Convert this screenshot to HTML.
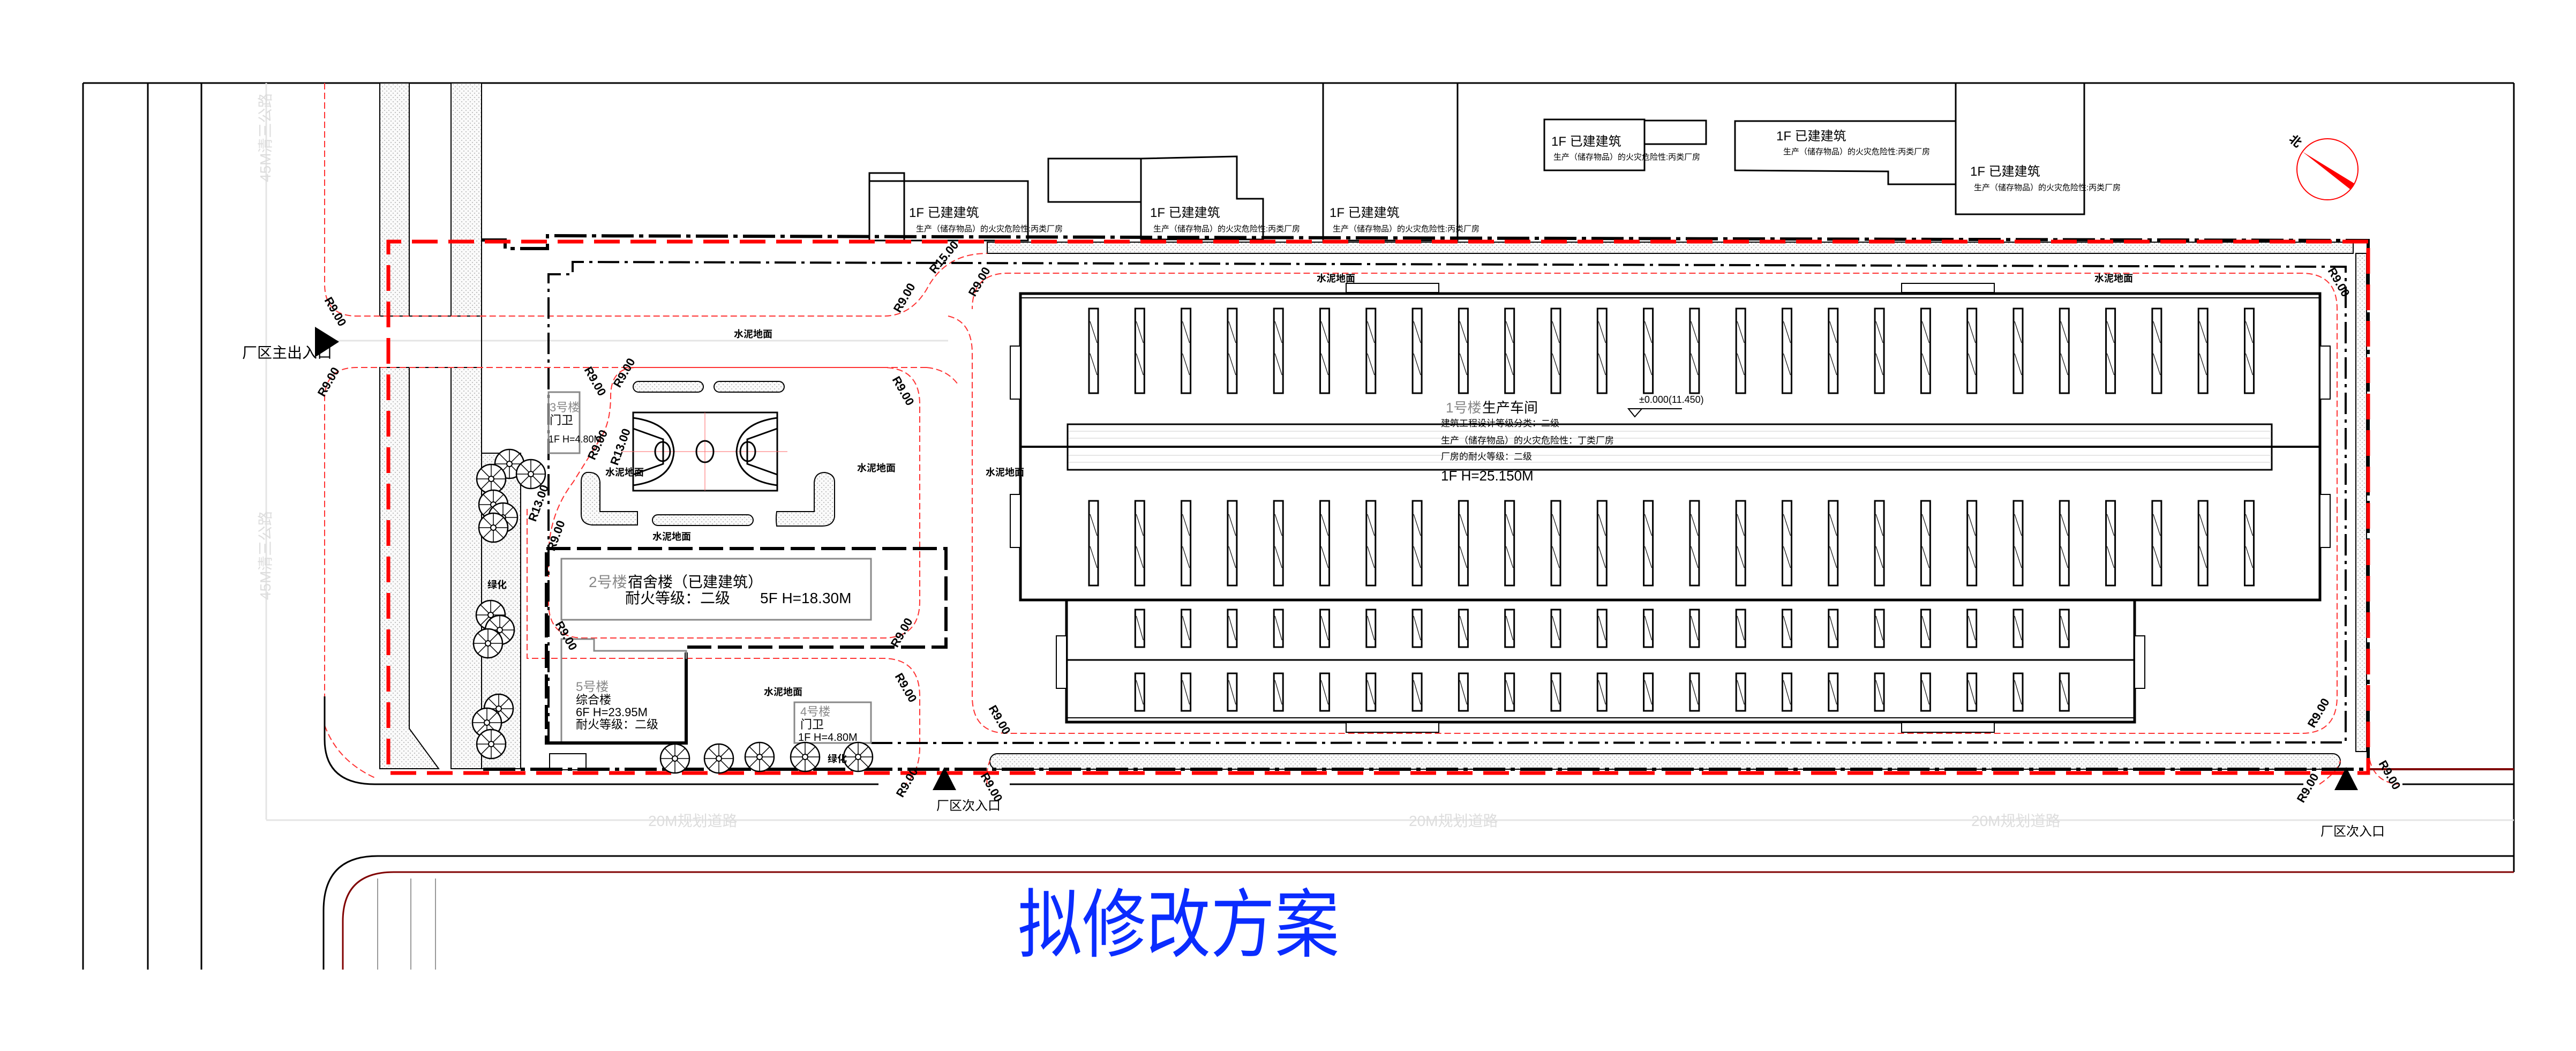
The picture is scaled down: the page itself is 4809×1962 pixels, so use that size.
<!DOCTYPE html>
<html><head><meta charset="utf-8"><style>
html,body{margin:0;padding:0;background:#fff;}
svg{display:block;}
text{font-family:"Liberation Sans","Noto Sans CJK SC",sans-serif;}
</style></head><body>
<svg width="4809" height="1962" viewBox="0 0 4809 1962" xmlns="http://www.w3.org/2000/svg">
<defs>
<pattern id="dots" width="8" height="8" patternUnits="userSpaceOnUse"><rect width="8" height="8" fill="#fafafa"/><circle cx="2" cy="2" r="0.9" fill="#999"/><circle cx="6" cy="6" r="0.9" fill="#999"/></pattern>
<pattern id="slats" x="2030" y="0" width="86.3" height="1962" patternUnits="userSpaceOnUse">
<g fill="#fff" stroke="#000" stroke-width="3">
<rect x="3" y="576" width="17" height="158"/><rect x="3" y="935" width="17" height="158"/>
<rect x="3" y="1138" width="17" height="70"/><rect x="3" y="1257" width="17" height="70"/></g>
<g stroke="#000" stroke-width="1.2">
<line x1="5" y1="600" x2="18" y2="640"/><line x1="5" y1="660" x2="18" y2="700"/>
<line x1="5" y1="960" x2="18" y2="1000"/><line x1="5" y1="1020" x2="18" y2="1060"/>
<line x1="5" y1="1150" x2="18" y2="1195"/><line x1="5" y1="1270" x2="18" y2="1315"/></g>
</pattern>
<symbol id="tree" viewBox="-30 -30 60 60">
<circle r="27" fill="#fff" stroke="#000" stroke-width="2.5"/>
<g stroke="#000" stroke-width="1.5"><line x1="-27" y1="0" x2="27" y2="0"/><line x1="0" y1="-27" x2="0" y2="27"/><line x1="-19" y1="-19" x2="19" y2="19"/><line x1="-19" y1="19" x2="19" y2="-19"/></g>
<circle r="5" fill="#fff" stroke="#000" stroke-width="2"/>
</symbol>
</defs>

<!-- frame -->
<g stroke="#000" stroke-width="3" fill="none">
<line x1="155" y1="155" x2="4693" y2="155"/>
<line x1="155" y1="155" x2="155" y2="1810"/>
<line x1="4693" y1="155" x2="4693" y2="1628"/>
<line x1="276" y1="155" x2="276" y2="1810"/>
<line x1="376" y1="155" x2="376" y2="1810"/>
</g>
<!-- faint road centre lines -->
<g stroke="#e4e4e4" stroke-width="3" fill="none">
<line x1="497" y1="155" x2="497" y2="1530"/>
<line x1="497" y1="1531" x2="4693" y2="1531"/>
<line x1="606" y1="636" x2="1770" y2="636"/>
</g>
<text transform="translate(505,340) rotate(-90)" font-size="28" fill="#ddd">45M清三公路</text>
<text transform="translate(505,1120) rotate(-90)" font-size="28" fill="#ddd">45M清三公路</text>
<text x="1210" y="1542" font-size="28" fill="#ddd">20M规划道路</text>
<text x="2630" y="1542" font-size="28" fill="#ddd">20M规划道路</text>
<text x="3680" y="1542" font-size="28" fill="#ddd">20M规划道路</text>

<!-- sidewalks -->
<g fill="url(#dots)" stroke="#000" stroke-width="2">
<rect x="709" y="155" width="55" height="435"/>
<rect x="842" y="155" width="57" height="435"/>
<path d="M709 686 L764 686 L764 1360 L819 1435 L709 1435 Z"/>
<rect x="842" y="686" width="57" height="749"/>
<rect x="899" y="846" width="73" height="589"/>
<rect x="1843" y="452" width="2550" height="21"/>
<rect x="4398" y="473" width="20" height="930"/>
<rect x="1848" y="1407" width="2521" height="29" rx="14"/>
</g>
<g stroke="#000" stroke-width="2" fill="none">
<line x1="709" y1="590" x2="899" y2="590"/>
<line x1="709" y1="686" x2="899" y2="686"/>
<line x1="899" y1="155" x2="899" y2="1435"/>
</g>

<!-- thin red dashed road edges -->
<g stroke="#f33" stroke-width="2" fill="none" stroke-dasharray="12,6">
<path d="M606 155 L606 530 Q606 590 666 590 L1650 590 Q1700 590 1730 540 Q1765 473 1843 473"/>
<path d="M1730 686 L666 686 Q606 686 606 746 L606 1380"/>
<path d="M1188 686 L1648 686 Q1717 686 1717 755 L1717 1122 Q1717 1191 1648 1191 L1090 1191 Q1024 1191 1024 1125 L1024 1040 Q1024 960 1070 900 L1120 820 Q1140 790 1140 740 Q1140 686 1188 686"/>
<path d="M984 950 L984 1229 L1648 1229 Q1717 1229 1717 1300 L1717 1395 Q1717 1440 1690 1464"/>
<path d="M1770 590 Q1815 600 1815 660 L1815 1300 Q1815 1369 1882 1369 L4296 1369 Q4363 1369 4363 1300 L4363 577 Q4363 510 4296 510 L1882 510 Q1815 510 1815 577"/>
<path d="M1843 1464 Q1840 1440 1848 1420"/>
<path d="M4330 1464 Q4365 1440 4369 1420"/>
<path d="M4421 1400 Q4425 1460 4478 1464"/>
<path d="M1730 686 Q1770 690 1790 720"/>
<path d="M606 1354 Q630 1420 700 1452"/>
</g>

<!-- bottom road -->
<g stroke="#000" stroke-width="3" fill="none">
<path d="M606 1300 L606 1380 Q606 1464 700 1464 L1640 1464"/>
<path d="M1885 1464 L4300 1464"/>
<path d="M4485 1464 L4693 1464"/>
<path d="M4693 1598 L705 1598 Q604 1598 604 1700 L604 1810"/>
</g>
<path d="M4693 1628 L735 1628 Q640 1628 640 1720 L640 1810" stroke="#800000" stroke-width="3" fill="none"/>
<g stroke="#999" stroke-width="2"><line x1="705" y1="1640" x2="705" y2="1810"/><line x1="767" y1="1640" x2="767" y2="1810"/><line x1="813" y1="1640" x2="813" y2="1810"/></g>
<line x1="4421" y1="1436" x2="4693" y2="1436" stroke="#800000" stroke-width="4"/>

<!-- existing buildings top -->
<g stroke="#000" stroke-width="3" fill="#fff">
<rect x="1623" y="323" width="65" height="126"/>
<line x1="1623" y1="338" x2="1688" y2="338"/>
<rect x="1688" y="338" width="231" height="111"/>
<rect x="1957" y="296" width="173" height="81"/>
<path d="M2130 296 L2309 292 L2309 371 L2358 371 L2358 447 L2130 447 Z"/>
<rect x="2470" y="155" width="251" height="294"/>
<rect x="2883" y="223" width="187" height="95"/>
<rect x="3070" y="225" width="115" height="44"/>
<path d="M3239 226 L3651 226 L3651 344 L3525 344 L3525 320 L3239 318 Z"/>
<rect x="3651" y="155" width="240" height="245"/>
</g>
<g font-size="24" fill="#000">
<text x="1697" y="405">1F 已建建筑</text><text x="2147" y="405">1F 已建建筑</text><text x="2482" y="405">1F 已建建筑</text>
<text x="2896" y="272">1F 已建建筑</text><text x="3316" y="262">1F 已建建筑</text><text x="3678" y="328">1F 已建建筑</text>
</g>
<g font-size="15" fill="#000">
<text x="1710" y="432">生产（储存物品）的火灾危险性:丙类厂房</text>
<text x="2153" y="432">生产（储存物品）的火灾危险性:丙类厂房</text>
<text x="2488" y="432">生产（储存物品）的火灾危险性:丙类厂房</text>
<text x="2900" y="298">生产（储存物品）的火灾危险性:丙类厂房</text>
<text x="3329" y="288">生产（储存物品）的火灾危险性:丙类厂房</text>
<text x="3685" y="355">生产（储存物品）的火灾危险性:丙类厂房</text>
</g>

<!-- boundary black -->
<path d="M899 448 L943 448 L943 464 L1022 464 L1022 440 L4421 449 L4421 1436 L899 1436" stroke="#000" stroke-width="6" fill="none" stroke-dasharray="60,10,8,10"/>
<!-- red thick dashed boundary -->
<path d="M4421 451 L725 451 L725 1443 L4421 1443 Z" stroke="#f00" stroke-width="7" fill="none" stroke-dasharray="48,20"/>

<!-- dash-dot inner boundary -->
<path d="M1024 1387 L1024 512 L1069 512 L1069 489 L4379 498 L4379 1386 L1626 1387" stroke="#000" stroke-width="4" fill="none" stroke-dasharray="40,10,6,10"/>

<!-- dorm 2 -->
<path d="M1020 1024 L1766 1024 L1766 1208 L1281 1208 L1281 1387 L1020 1387 Z" stroke="#000" stroke-width="6" fill="none" stroke-dasharray="45,12"/>
<rect x="1048" y="1043" width="578" height="114" fill="none" stroke="#888" stroke-width="3"/>
<text x="1099" y="1096" font-size="28" fill="#888">2号楼</text><text x="1172" y="1096" font-size="28">宿舍楼（已建建筑）</text>
<text x="1167" y="1126" font-size="28">耐火等级：二级　　5F H=18.30M</text>
<!-- 5 -->
<path d="M1048 1387 L1048 1240 L1048 1193 L1109 1193 L1109 1215 L1281 1215 L1281 1387" stroke="#888" stroke-width="3" fill="none"/>
<path d="M1020 1387 L1281 1387 L1281 1230" stroke="#000" stroke-width="6" fill="none"/>
<text x="1075" y="1290" font-size="24" fill="#888">5号楼</text>
<text x="1075" y="1314" font-size="22">综合楼</text>
<text x="1075" y="1337" font-size="22">6F H=23.95M</text>
<text x="1075" y="1360" font-size="22">耐火等级：二级</text>
<!-- 4 -->
<rect x="1483" y="1311" width="143" height="76" fill="none" stroke="#888" stroke-width="3"/>
<text x="1494" y="1336" font-size="22" fill="#888">4号楼</text>
<text x="1494" y="1360" font-size="22">门卫</text>
<text x="1490" y="1383" font-size="20">1F H=4.80M</text>
<rect x="1026" y="1407" width="68" height="30" fill="none" stroke="#000" stroke-width="2"/>
<!-- 3 -->
<rect x="1024" y="732" width="58" height="114" fill="none" stroke="#888" stroke-width="3"/>
<text x="1026" y="768" font-size="22" fill="#888">3号楼</text>
<text x="1026" y="792" font-size="22">门卫</text>
<text x="1024" y="826" font-size="18">1F H=4.80M</text>

<!-- basketball court -->
<g stroke="#000" stroke-width="3" fill="none">
<rect x="1182" y="770" width="269" height="146"/>
<line x1="1316" y1="770" x2="1316" y2="916" stroke="#f66" stroke-width="1"/>
<line x1="1160" y1="843" x2="1470" y2="843" stroke="#f66" stroke-width="1"/>
<ellipse cx="1316" cy="843" rx="16" ry="20"/>
<path d="M1182 780 Q1255 790 1258 843 Q1255 896 1182 906"/>
<path d="M1451 780 Q1378 790 1375 843 Q1378 896 1451 906"/>
<path d="M1182 800 L1238 820 L1238 866 L1182 886"/>
<path d="M1451 800 L1395 820 L1395 866 L1451 886"/>
<ellipse cx="1237" cy="843" rx="14" ry="18"/><ellipse cx="1396" cy="843" rx="14" ry="18"/>
</g>
<g fill="url(#dots)" stroke="#000" stroke-width="2">
<rect x="1182" y="712" width="131" height="20" rx="10"/>
<rect x="1333" y="712" width="131" height="20" rx="10"/>
<path d="M1095 882 Q1118 880 1120 900 L1120 955 L1190 955 L1190 980 L1105 980 Q1085 978 1085 960 L1085 900 Q1085 885 1095 882 Z"/>
<rect x="1218" y="961" width="188" height="20" rx="10"/>
<path d="M1450 955 L1520 955 L1520 900 Q1522 882 1540 882 Q1558 885 1558 900 L1558 965 Q1555 982 1535 982 L1450 982 Q1448 968 1450 955 Z"/>
</g>

<!-- trees -->
<g>
<use href="#tree" x="921" y="836" width="60" height="60"/><use href="#tree" x="961" y="855" width="60" height="60"/>
<use href="#tree" x="887" y="864" width="60" height="60"/><use href="#tree" x="891" y="912" width="60" height="60"/>
<use href="#tree" x="909" y="936" width="60" height="60"/><use href="#tree" x="891" y="955" width="60" height="60"/>
<use href="#tree" x="886" y="1118" width="60" height="60"/><use href="#tree" x="903" y="1146" width="60" height="60"/>
<use href="#tree" x="881" y="1171" width="60" height="60"/><use href="#tree" x="901" y="1293" width="60" height="60"/>
<use href="#tree" x="879" y="1319" width="60" height="60"/><use href="#tree" x="887" y="1359" width="60" height="60"/>
<use href="#tree" x="1230" y="1386" width="60" height="60"/><use href="#tree" x="1312" y="1386" width="60" height="60"/>
<use href="#tree" x="1388" y="1383" width="60" height="60"/><use href="#tree" x="1473" y="1383" width="60" height="60"/>
<use href="#tree" x="1572" y="1383" width="60" height="60"/>
</g>

<!-- main building -->
<g stroke="#000" fill="#fff">
<rect x="1905" y="548" width="2426" height="572" stroke-width="5"/>
<line x1="1905" y1="556" x2="4331" y2="556" stroke-width="2"/>
<rect x="1991" y="1120" width="1994" height="228" stroke-width="5"/>
<line x1="1991" y1="1340" x2="3985" y2="1340" stroke-width="2"/>
<line x1="1991" y1="1232" x2="3985" y2="1232" stroke-width="3"/>
<rect x="1993" y="792" width="2248" height="85" stroke-width="3"/>
<line x1="1905" y1="834" x2="4331" y2="834" stroke-width="4"/>
<rect x="2513" y="529" width="173" height="17" stroke-width="2"/><rect x="3550" y="529" width="173" height="17" stroke-width="2"/>
<rect x="2513" y="1349" width="173" height="18" stroke-width="2"/><rect x="3550" y="1349" width="173" height="18" stroke-width="2"/>
<rect x="1886" y="646" width="19" height="99" stroke-width="2"/><rect x="1886" y="923" width="19" height="99" stroke-width="2"/>
<rect x="4331" y="646" width="19" height="99" stroke-width="2"/><rect x="4331" y="923" width="19" height="99" stroke-width="2"/>
<rect x="1972" y="1187" width="19" height="98" stroke-width="2"/><rect x="3985" y="1187" width="19" height="98" stroke-width="2"/>
</g>
<g stroke="#ccc" stroke-width="1"><line x1="1995" y1="805" x2="4240" y2="805"/><line x1="1995" y1="818" x2="4240" y2="818"/><line x1="1995" y1="850" x2="4240" y2="850"/><line x1="1995" y1="863" x2="4240" y2="863"/></g>
<rect x="2030" y="560" width="2243.8" height="540" fill="url(#slats)"/>
<rect x="2116.3" y="1130" width="1812.3" height="200" fill="url(#slats)"/>
<text x="2699" y="770" font-size="26" fill="#888">1号楼</text><text x="2767" y="770" font-size="26">生产车间</text>
<text x="2690" y="796" font-size="17">建筑工程设计等级分类：二级</text>
<text x="2690" y="828" font-size="17">生产（储存物品）的火灾危险性：丁类厂房</text>
<text x="2690" y="858" font-size="17">厂房的耐火等级：二级</text>
<text x="2690" y="897" font-size="26">1F H=25.150M</text>
<text x="3060" y="752" font-size="18">±0.000(11.450)</text>
<path d="M3040 763 L3065 763 L3052 778 Z M3052 763 L3140 763" stroke="#000" stroke-width="2" fill="none"/>

<!-- labels 水泥地面 / 绿化 -->
<g font-size="18" font-weight="bold">
<text x="1370" y="630">水泥地面</text><text x="1600" y="880">水泥地面</text><text x="1130" y="888">水泥地面</text>
<text x="1218" y="1008">水泥地面</text><text x="1426" y="1298">水泥地面</text><text x="1840" y="888">水泥地面</text>
<text x="2458" y="526">水泥地面</text><text x="3910" y="526">水泥地面</text>
<text x="910" y="1098">绿化</text><text x="1545" y="1423">绿化</text>
</g>

<!-- R labels -->
<g font-size="22" font-weight="bold" fill="#000">
<text transform="translate(605,560) rotate(60)">R9.00</text>
<text transform="translate(605,742) rotate(-60)">R9.00</text>
<text transform="translate(1090,690) rotate(60)">R9.00</text>
<text transform="translate(1157,725) rotate(-60)">R9.00</text>
<text transform="translate(1665,708) rotate(60)">R9.00</text>
<text transform="translate(1110,860) rotate(-65)">R9.00</text>
<text transform="translate(1153,870) rotate(-70)">R13.00</text>
<text transform="translate(1000,975) rotate(-70)">R13.00</text>
<text transform="translate(1035,1030) rotate(-70)">R9.00</text>
<text transform="translate(1036,1165) rotate(60)">R9.00</text>
<text transform="translate(1675,1210) rotate(-60)">R9.00</text>
<text transform="translate(1670,1262) rotate(60)">R9.00</text>
<text transform="translate(1845,1322) rotate(60)">R9.00</text>
<text transform="translate(1685,1490) rotate(-60)">R9.00</text>
<text transform="translate(1830,1448) rotate(60)">R9.00</text>
<text transform="translate(1745,512) rotate(-50)">R15.00</text>
<text transform="translate(1680,585) rotate(-60)">R9.00</text>
<text transform="translate(1820,555) rotate(-60)">R9.00</text>
<text transform="translate(4345,505) rotate(60)">R9.00</text>
<text transform="translate(4320,1360) rotate(-60)">R9.00</text>
<text transform="translate(4300,1500) rotate(-60)">R9.00</text>
<text transform="translate(4440,1425) rotate(60)">R9.00</text>
</g>

<!-- entrances -->
<path d="M588 610 L633 638 L588 667 Z" fill="#000"/>
<text x="452" y="668" font-size="28">厂区主出入口</text>
<path d="M1763 1432 L1785 1475 L1741 1475 Z" fill="#000"/>
<text x="1748" y="1512" font-size="24">厂区次入口</text>
<path d="M4380 1432 L4402 1475 L4358 1475 Z" fill="#000"/>
<text x="4332" y="1560" font-size="24">厂区次入口</text>

<!-- north arrow -->
<circle cx="4345" cy="316" r="57" fill="none" stroke="#f00" stroke-width="2"/>
<path d="M4298 283 L4396 343 L4387 353 Z" fill="#f00"/>
<text transform="translate(4272,262) rotate(40)" font-size="22" font-weight="bold">北</text>

<!-- title -->
<text x="1900" y="1775" font-size="140" fill="#0a2cff" textLength="600" lengthAdjust="spacingAndGlyphs">拟修改方案</text>
</svg>
</body></html>
